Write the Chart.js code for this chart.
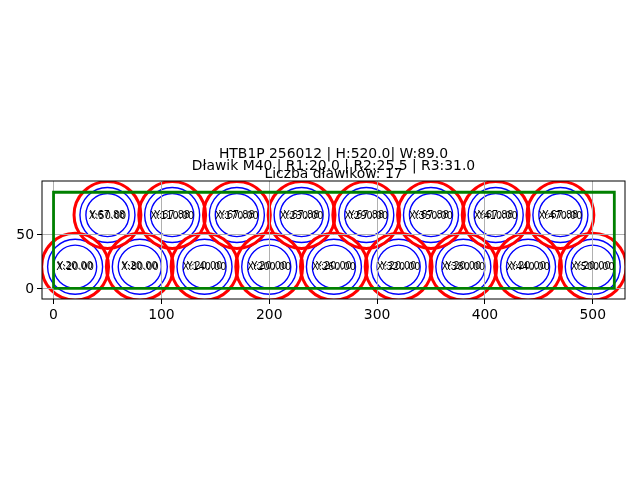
<!DOCTYPE html>
<html>
<head>
<meta charset="utf-8">
<title>Dławiki</title>
<script src="https://cdn.jsdelivr.net/npm/chart.js@4"></script>
<style>
  html, body { margin: 0; padding: 0; background: #fff; }
  canvas { display: block; }
</style>
</head>
<body>
<canvas id="chart" width="640" height="480"></canvas>
<script>
// gland centres, bottom row then top row
const centerX = [20, 80, 140, 200, 260, 320, 380, 440, 500, 50, 110, 170, 230, 290, 350, 410, 470];
const centerY = [20, 20, 20, 20, 20, 20, 20, 20, 20, 67.88, 67.88, 67.88, 67.88, 67.88, 67.88, 67.88, 67.88];
const radii = [31.0, 25.5, 20.0];
const radiusColors = ["#ff0000", "#0000ff", "#0000ff"];
const radiusWidths = [3, 1.4, 1.4];
const outlineX = [0, 520, 520, 0, 0];
const outlineY = [0, 0, 89, 89, 0];
const xTicks = [0, 100, 200, 300, 400, 500];
const yTicks = [0, 50];
const titleLines = [
  "HTB1P 256012 | H:520.0| W:89.0",
  "Dławik M40 | R1:20.0 | R2:25.5 | R3:31.0",
  "Liczba dławików: 17",
];
const titleBaselines = [158, 170, 178];

const FONT = '"DejaVu Sans"';
const centers = centerX.map((x, i) => ({ x: x, y: centerY[i] }));
const outline = outlineX.map((x, i) => ({ x: x, y: outlineY[i] }));

// radius in data units -> pixels, so circles follow the axis scale
const radiusPx = (chart, r) => {
  const xs = chart.scales.x;
  return Math.abs(xs.getPixelForValue(r) - xs.getPixelForValue(0));
};

const circleSets = radii.map((r, i) => ({
  data: centers,
  showLine: false,
  clip: 0,
  order: 3,
  pointStyle: "circle",
  pointBackgroundColor: "rgba(0,0,0,0)",
  pointBorderColor: radiusColors[i],
  pointBorderWidth: radiusWidths[i],
  pointRadius: (ctx) => radiusPx(ctx.chart, r),
}));

const overlay = {
  id: "overlay",
  beforeDatasetDraw(chart, args) {
    // grid goes over the circles but under the green outline
    if (args.index === circleSets.length) {
      chart.scales.x.drawGrid(chart.chartArea);
      chart.scales.y.drawGrid(chart.chartArea);
    }
  },
  afterDatasetsDraw(chart) {
    const { ctx, chartArea, scales } = chart;
    ctx.save();
    ctx.fillStyle = "#000";
    ctx.textAlign = "center";
    ctx.textBaseline = "middle";
    ctx.font = "9.7px " + FONT;
    centers.forEach((c) => {
      const px = scales.x.getPixelForValue(c.x);
      const py = scales.y.getPixelForValue(c.y);
      ctx.fillText("X:" + c.x.toFixed(2), px, py + 1);
      ctx.fillText("Y:" + c.y.toFixed(2), px, py);
    });
    ctx.strokeStyle = "#000";
    ctx.lineWidth = 1;
    ctx.strokeRect(chartArea.left, chartArea.top, chartArea.width, chartArea.height);
    ctx.textBaseline = "alphabetic";
    ctx.font = "13.9px " + FONT;
    titleLines.forEach((t, i) => {
      ctx.fillText(t, (chartArea.left + chartArea.right) / 2, titleBaselines[i]);
    });
    ctx.restore();
  },
};

const axisCommon = {
  type: "linear",
  grid: { color: "#b0b0b0", lineWidth: 1, tickLength: 5, tickColor: "#000" },
  border: { display: false },
};

new Chart(document.getElementById("chart").getContext("2d"), {
  type: "scatter",
  data: {
    datasets: [
      ...circleSets,
      {
        data: outline,
        showLine: true,
        clip: 0,
        order: 1,
        borderColor: "#008000",
        borderWidth: 2.8,
        pointRadius: 0,
        tension: 0,
      },
    ],
  },
  options: {
    responsive: false,
    animation: false,
    devicePixelRatio: 1,
    layout: { padding: { top: 181, right: 15, left: 0, bottom: 0 } },
    plugins: { legend: { display: false }, tooltip: { enabled: false }, title: { display: false } },
    scales: {
      x: {
        ...axisCommon,
        min: -10.7,
        max: 529.9,
        afterBuildTicks: (s) => { s.ticks = xTicks.map((v) => ({ value: v })); },
        afterFit: (s) => { s.height = 181; },
        ticks: { color: "#000", font: { family: FONT, size: 13.9 }, padding: 3, maxRotation: 0 },
      },
      y: {
        ...axisCommon,
        min: -9.9,
        max: 99.4,
        afterBuildTicks: (s) => { s.ticks = yTicks.map((v) => ({ value: v })); },
        afterFit: (s) => { s.width = 42; },
        ticks: { color: "#000", font: { family: FONT, size: 13.9 }, padding: 3, labelOffset: 1 },
      },
    },
  },
  plugins: [overlay],
});
</script>
</body>
</html>
